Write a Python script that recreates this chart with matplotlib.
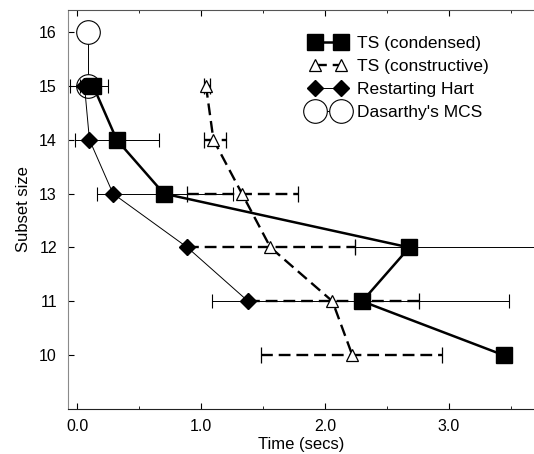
import matplotlib
matplotlib.use("Agg")
import matplotlib.pyplot as plt
import numpy as np

plt.rcParams['font.family'] = ['Liberation Sans', 'DejaVu Sans']

# ---- data ----
cond_y = [15, 14, 13, 12, 11, 10]
cond_x = [0.13, 0.32, 0.70, 2.68, 2.30, 3.44]
cond_lo = [0.02, -0.02, 0.70, 2.24, 2.30, 3.44]
cond_hi = [0.25, 0.66, 0.70, 4.00, 2.30, 3.44]

cons_y = [15, 14, 13, 12, 11, 10]
cons_x = [1.04, 1.10, 1.33, 1.56, 2.06, 2.22]
cons_lo = [1.02, 1.02, 0.89, 0.89, 1.38, 1.48]
cons_hi = [1.07, 1.20, 1.78, 2.24, 2.76, 2.94]

hart_y = [15, 14, 13, 12, 11]
hart_x = [0.06, 0.10, 0.29, 0.89, 1.38]
hart_lo = [-0.06, 0.10, 0.16, 0.89, 1.09]
hart_hi = [0.06, 0.10, 1.26, 0.89, 3.48]

mcs_y = [16, 15]
mcs_x = [0.09, 0.09]

labels = ["TS (condensed)", "TS (constructive)", "Restarting Hart", "Dasarthy's MCS"]
xticks = [0.0, 1.0, 2.0, 3.0]
xticklabels = ["0.0", "1.0", "2.0", "3.0"]
yticks = [10, 11, 12, 13, 14, 15, 16]

def xerr(x, lo, hi):
    x = np.array(x); lo = np.array(lo); hi = np.array(hi)
    return [x - lo, hi - x]

fig = plt.figure(figsize=(5.34, 4.54), dpi=100)
ax = fig.add_axes([68/534, 45/454, 1 - 68/534, (409 - 10)/454])

# MCS
l_mcs, = ax.plot(mcs_x, mcs_y, '-', color='black', lw=0.7, marker='o', ms=17,
                 mfc='white', mec='black', mew=0.8, zorder=2)

# Restarting Hart
eb_h = ax.errorbar(hart_x, hart_y, xerr=xerr(hart_x, hart_lo, hart_hi), fmt='-',
                   color='black', lw=0.7, marker='D', ms=8, mfc='black', mec='black',
                   elinewidth=0.7, capsize=5, capthick=0.8, zorder=3)

# TS constructive
eb_c = ax.errorbar(cons_x, cons_y, xerr=xerr(cons_x, cons_lo, cons_hi), fmt='--',
                   color='black', lw=1.7, dashes=(5, 2.5), marker='^', ms=9,
                   mfc='white', mec='black', mew=0.9,
                   elinewidth=1.7, capsize=6, capthick=1.0, zorder=4)
eb_c[2][0].set_linestyle((0, (5, 2.5)))

# TS condensed
eb_s = ax.errorbar(cond_x, cond_y, xerr=xerr(cond_x, cond_lo, cond_hi), fmt='-',
                   color='black', lw=1.8, marker='s', ms=12, mfc='black', mec='black',
                   elinewidth=0.7, capsize=5, capthick=0.8, zorder=5)

ax.set_xlim(-0.073, (534 - 77) / 124)
ax.set_ylim(9.0, 16.41)
ax.set_xticks(xticks)
ax.set_xticklabels(xticklabels)
ax.set_xticks([0.5, 1.5, 2.5, 3.5], minor=True)
ax.set_yticks(yticks)

ax.tick_params(axis='both', which='both', direction='in', labelsize=11.5)
ax.tick_params(axis='x', which='both', top=True)
ax.tick_params(axis='x', which='major', length=4, pad=7)
ax.tick_params(axis='x', which='minor', length=2.5)
ax.tick_params(axis='y', which='major', length=4, pad=8)

ax.spines['right'].set_visible(False)
ax.spines['left'].set_color('#8a8a8a')
ax.spines['top'].set_color('#555555')
ax.spines['bottom'].set_color('#222222')

ax.set_xlabel("Time (secs)", fontsize=12, labelpad=2)
ax.set_ylabel("Subset size", fontsize=12, labelpad=6)

handles = [eb_s[0], eb_c[0], eb_h[0], l_mcs]
leg = ax.legend(handles, labels, loc='upper left',
                bbox_to_anchor=(310/534, (454 - 36)/454), bbox_transform=fig.transFigure,
                frameon=False, fontsize=12.5, numpoints=2, handlelength=2.1,
                handletextpad=0.6, labelspacing=0.45, borderpad=0, borderaxespad=0)

fig.savefig("out.png", dpi=100)
